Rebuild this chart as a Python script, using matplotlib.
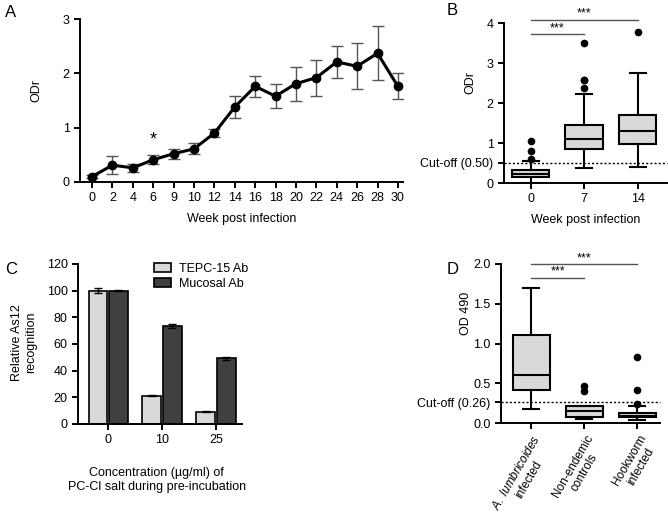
import matplotlib
matplotlib.use("Agg")
import matplotlib.pyplot as plt
import numpy as np

plt.rcParams['font.family'] = ['Liberation Sans', 'DejaVu Sans']
plt.rcParams['font.size'] = 9
plt.rcParams['mathtext.fontset'] = 'custom'
plt.rcParams['mathtext.it'] = 'Liberation Sans:italic'
plt.rcParams['mathtext.rm'] = 'Liberation Sans'
plt.rcParams['axes.linewidth'] = 1.4
plt.rcParams['xtick.major.width'] = 1.4
plt.rcParams['ytick.major.width'] = 1.4
plt.rcParams['xtick.major.size'] = 4
plt.rcParams['ytick.major.size'] = 4

# Panel A: time course
weeks = ['0', '2', '4', '6', '9', '10', '12', '14', '16', '18', '20', '22', '24', '26', '28', '30']
odr_mean = [0.10, 0.31, 0.26, 0.41, 0.52, 0.61, 0.90, 1.38, 1.76, 1.58, 1.81, 1.92, 2.21, 2.13, 2.37, 1.76]
odr_err = [0.03, 0.16, 0.07, 0.08, 0.09, 0.10, 0.08, 0.20, 0.19, 0.22, 0.31, 0.33, 0.29, 0.42, 0.50, 0.24]

# Panel B: box stats per week
b_groups = ['0', '7', '14']
b_whislo = [0.01, 0.38, 0.41]
b_q1 = [0.15, 0.86, 0.97]
b_med = [0.23, 1.09, 1.30]
b_q3 = [0.32, 1.45, 1.71]
b_whishi = [0.54, 2.22, 2.76]
b_fliers = [[0.59, 0.80, 1.05], [2.38, 2.58, 2.58, 3.50], [3.77]]
b_cutoff = 0.50

# Panel C: bars
conc = ['0', '10', '25']
tepc = [100, 21.2, 9.2]
tepc_err = [1.8, 0.5, 0.3]
mucosal = [100, 73.2, 49.2]
mucosal_err = [0.5, 1.5, 1.3]

# Panel D: box stats per group
d_groups = ['$\\it{A.\\ lumbricoides}$\ninfected', 'Non-endemic\ncontrols', 'Hookworm\ninfected']
d_whislo = [0.17, 0.05, 0.04]
d_q1 = [0.41, 0.08, 0.07]
d_med = [0.61, 0.15, 0.09]
d_q3 = [1.11, 0.21, 0.13]
d_whishi = [1.70, 0.22, 0.22]
d_fliers = [[], [0.40, 0.47], [0.24, 0.42, 0.83]]
d_cutoff = 0.26

W, H = 668, 519
fig = plt.figure(figsize=(W / 100, H / 100), dpi=100)


def ax_px(l, t, r, b):
    return fig.add_axes([l / W, 1 - b / H, (r - l) / W, (b - t) / H])


def clean(ax):
    ax.spines['top'].set_visible(False)
    ax.spines['right'].set_visible(False)


def boxes(ax, lo, q1, med, q3, hi, fl):
    stats = []
    for i in range(len(med)):
        stats.append({'whislo': lo[i], 'q1': q1[i], 'med': med[i], 'q3': q3[i],
                      'whishi': hi[i], 'fliers': fl[i]})
    ax.bxp(stats, positions=range(len(med)), widths=0.7, patch_artist=True,
           boxprops=dict(facecolor='#d9d9d9', edgecolor='black', linewidth=1.5),
           medianprops=dict(color='black', linewidth=1.5),
           whiskerprops=dict(color='black', linewidth=1.5),
           capprops=dict(color='black', linewidth=1.5),
           flierprops=dict(marker='o', markerfacecolor='black', markeredgecolor='black', markersize=4.5),
           capwidths=0.3)


def sig(ax, x0, x1, y, txt):
    ax.plot([x0, x1], [y, y], color='#555555', lw=1, clip_on=False)
    ax.text((x0 + x1) / 2, y, txt, ha='center', va='bottom', fontsize=9, clip_on=False)


# ---- A ----
axA = ax_px(80, 19, 403, 182)
x = np.arange(len(weeks))
axA.errorbar(x, odr_mean, yerr=odr_err, color='black', lw=2.2, marker='o', markersize=6,
             ecolor='#555555', elinewidth=1, capsize=4, capthick=1)
axA.set_xlim(-0.59, 15.25)
axA.set_ylim(0, 3)
axA.set_yticks([0, 1, 2, 3])
axA.set_xticks(x)
axA.set_xticklabels(weeks)
axA.set_xlabel('Week post infection', labelpad=6)
axA.set_ylabel('ODr')
axA.yaxis.set_label_coords(-0.115, 0.56)
axA.text(3, 0.62, '*', ha='center', va='bottom', fontsize=13)
clean(axA)

# ---- B ----
axB = ax_px(504, 23, 667, 183)
boxes(axB, b_whislo, b_q1, b_med, b_q3, b_whishi, b_fliers)
axB.axhline(b_cutoff, color='black', lw=1, ls=(0, (1.5, 1.5)), clip_on=False)
axB.set_xlim(-0.5, 2.55)
axB.set_ylim(0, 4)
axB.set_yticks([0, b_cutoff, 1, 2, 3, 4])
axB.set_yticklabels(['0', 'Cut-off (%.2f)' % b_cutoff, '1', '2', '3', '4'])
axB.set_xticks(range(len(b_groups)))
axB.set_xticklabels(b_groups)
axB.set_xlabel('Week post infection', labelpad=6)
axB.set_ylabel('ODr')
axB.yaxis.set_label_coords(-0.17, 0.625)
sig(axB, 0, 1, 3.72, '***')
sig(axB, 0, 2, 4.08, '***')
clean(axB)

# ---- C ----
axC = ax_px(78, 264, 242, 424)
xc = np.arange(len(conc))
bw = 0.35
axC.bar(xc - 0.19, tepc, bw, yerr=tepc_err, color='#d9d9d9', edgecolor='black', lw=1.2,
        capsize=3, error_kw=dict(elinewidth=1, capthick=1), label='TEPC-15 Ab')
axC.bar(xc + 0.19, mucosal, bw, yerr=mucosal_err, color='#404040', edgecolor='black', lw=1.2,
        capsize=3, error_kw=dict(elinewidth=1, capthick=1), label='Mucosal Ab')
axC.set_xlim(-0.56, 2.48)
axC.set_ylim(0, 120)
axC.set_yticks(range(0, 121, 20))
axC.set_xticks(xc)
axC.set_xticklabels(conc)
axC.set_xlabel('Concentration (\u00b5g/ml) of\nPC-Cl salt during pre-incubation')
axC.xaxis.set_label_coords(0.48, -0.27)
axC.set_ylabel('Relative As12\nrecognition')
axC.yaxis.set_label_coords(-0.25, 0.51)
axC.legend(loc='upper left', bbox_to_anchor=(0.43, 1.04), frameon=False,
           handlelength=1.4, handleheight=0.8, handletextpad=0.6, borderaxespad=0, labelspacing=0.25)
clean(axC)

# ---- D ----
axD = ax_px(501, 264, 660, 423)
boxes(axD, d_whislo, d_q1, d_med, d_q3, d_whishi, d_fliers)
axD.axhline(d_cutoff, color='black', lw=1, ls=(0, (1.5, 1.5)), clip_on=False)
axD.set_xlim(-0.57, 2.43)
axD.set_ylim(0, 2)
axD.set_yticks([0, d_cutoff, 0.5, 1.0, 1.5, 2.0])
axD.set_yticklabels(['0.0', 'Cut-off (%.2f)' % d_cutoff, '0.5', '1.0', '1.5', '2.0'])
axD.set_xticks(range(len(d_groups)))
axD.set_xticklabels([])
for i, g in enumerate(d_groups):
    axD.text(i + 0.02, -0.06, g, rotation=60, ha='right', va='top', rotation_mode='anchor',
             multialignment='center', linespacing=1.15, fontsize=8.5,
             transform=axD.get_xaxis_transform())
axD.set_ylabel('OD 490')
axD.yaxis.set_label_coords(-0.18, 0.69)
sig(axD, 0, 1, 1.83, '***')
sig(axD, 0, 2, 2.0, '***')
clean(axD)

for lab, (px, py) in zip('ABCD', [(5, 5), (447, 3), (5, 262), (447, 262)]):
    fig.text(px / W, 1 - py / H, lab, fontsize=12, ha='left', va='top')

fig.savefig('out.png', dpi=100)
